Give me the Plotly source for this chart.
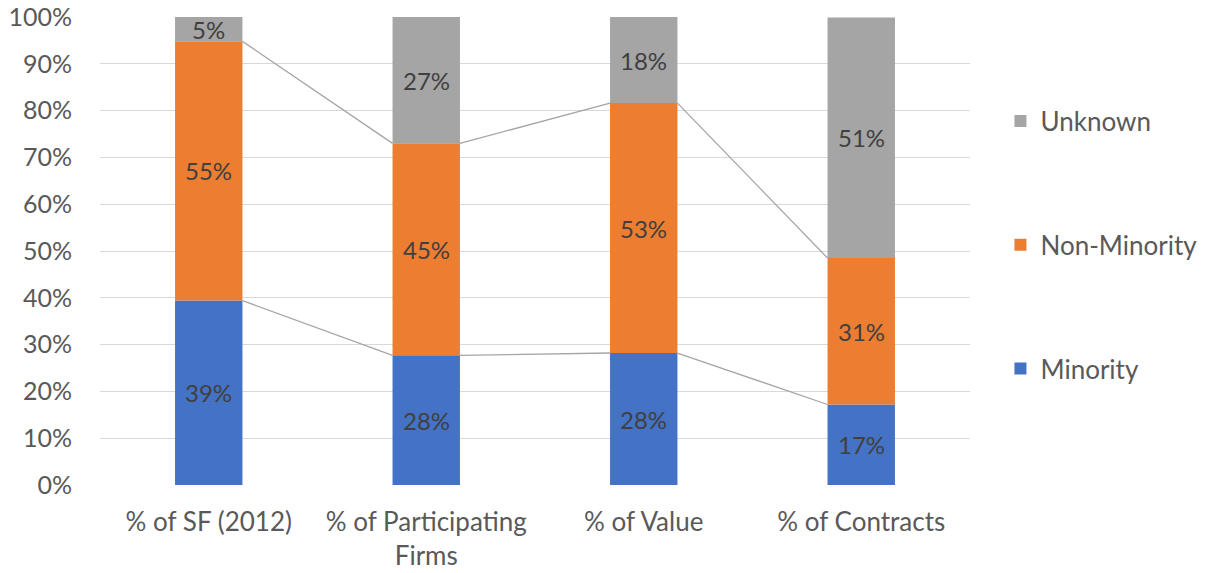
import plotly.graph_objects as go

categories = ["% of SF (2012)", "% of Participating<br>Firms", "% of Value", "% of Contracts"]
minority = [39.4, 27.7, 28.2, 17.2]
non_minority = [55.4, 45.3, 53.4, 31.3]
unknown = [5.2, 27.0, 18.4, 51.4]
y_ticks = [0, 10, 20, 30, 40, 50, 60, 70, 80, 90, 100]

series = [("Minority", minority, "#4472C4"),
          ("Non-Minority", non_minority, "#ED7D31"),
          ("Unknown", unknown, "#A5A5A5")]

FONT = "Lato"
FS = 24
BAR_W = 0.31
x = list(range(len(categories)))

fig = go.Figure()
base = [0.0] * len(x)
annotations = []
tops = []
for rank, (name, vals, color) in enumerate(series):
    fig.add_trace(go.Bar(
        x=x, y=vals, base=base[:], name=name, width=BAR_W,
        marker=dict(color=color, line=dict(width=0)),
        legendgroup=name, legendrank=10 - rank, hoverinfo="skip",
    ))
    for i, v in enumerate(vals):
        annotations.append(dict(
            x=i, y=base[i] + v / 2, xref="x", yref="y",
            text=f"{round(v)}%", showarrow=False,
            font=dict(family=FONT, size=FS, color="#404040"),
        ))
    base = [b + v for b, v in zip(base, vals)]
    tops.append(base[:])

# series connector lines (Excel style)
for top in tops[:-1]:
    lx, ly = [], []
    for i in range(len(x) - 1):
        lx += [i + BAR_W / 2, i + 1 - BAR_W / 2, None]
        ly += [top[i], top[i + 1], None]
    fig.add_trace(go.Scatter(x=lx, y=ly, mode="lines",
                             line=dict(color="#A5A5A5", width=1.3),
                             showlegend=False, hoverinfo="skip"))

fig.update_layout(
    width=1213, height=573,
    margin=dict(l=100, r=243, t=17, b=88, autoexpand=False),
    plot_bgcolor="white", paper_bgcolor="white",
    barmode="overlay",
    font=dict(family=FONT, size=FS, color="#595959"),
    annotations=annotations,
    showlegend=True,
    legend=dict(x=1.035, y=0.828, xanchor="left", yanchor="top",
                traceorder="grouped", tracegroupgap=87,
                font=dict(family=FONT, size=26, color="#595959"),
                itemwidth=30, bgcolor="rgba(0,0,0,0)"),
    xaxis=dict(tickmode="array", tickvals=x, ticktext=categories,
               range=[-0.5, len(x) - 0.5], showgrid=False, zeroline=False,
               showline=False, ticks="outside", ticklen=14,
               tickcolor="rgba(0,0,0,0)", automargin=False,
               tickfont=dict(family=FONT, size=26, color="#595959")),
    yaxis=dict(range=[0, 100], tickmode="array", tickvals=y_ticks,
               ticktext=[f"{t}%" for t in y_ticks],
               showgrid=True, gridcolor="#D9D9D9", gridwidth=1.3,
               zeroline=False, showline=False, ticks="outside", ticklen=22,
               tickcolor="rgba(0,0,0,0)", automargin=False,
               tickfont=dict(family=FONT, size=25, color="#595959")),
)

fig.write_html("out.html", config={"displayModeBar": False},
               post_script="document.body.style.margin='0';")
